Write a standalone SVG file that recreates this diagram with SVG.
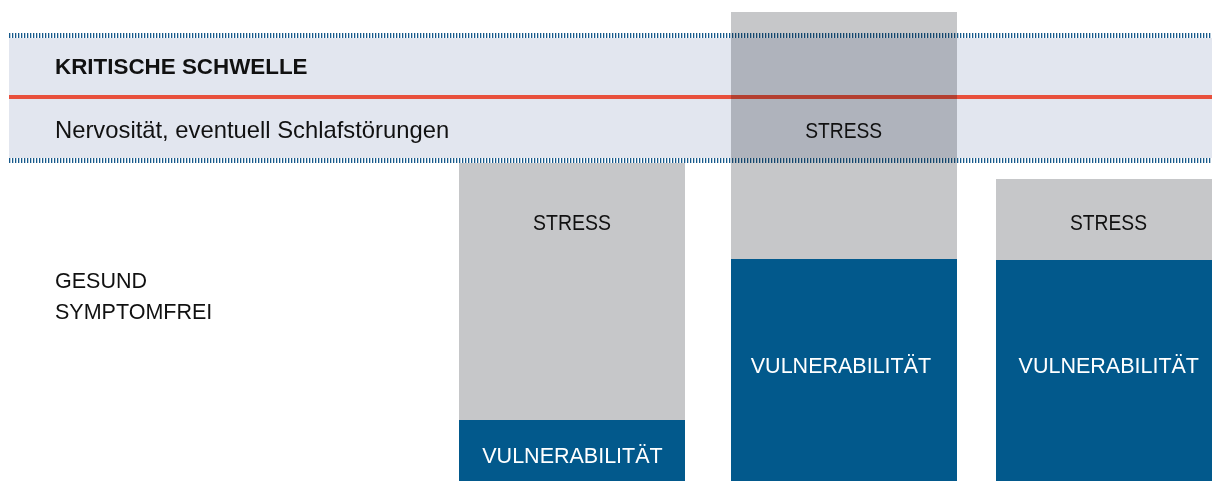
<svg xmlns="http://www.w3.org/2000/svg" width="1212" height="481" viewBox="0 0 1212 481">
  <style>
    .stress { fill: #c6c7c9; }
    .vuln { fill: #02598c; }
    .lbl { font-family: "Liberation Sans", Arial, sans-serif; font-size: 21.5px; fill: #111; }
    .lbl-w { font-family: "Liberation Sans", Arial, sans-serif; font-size: 21.5px; fill: #ffffff; }
    .mid { text-anchor: middle; }
    .dots { stroke: #16598b; stroke-width: 5; stroke-dasharray: 1.3 1.7; fill: none; }
    .band-layer { mix-blend-mode: multiply; }
  </style>
  <rect width="1212" height="481" fill="#ffffff"/>

  <!-- Bar 1: low vulnerability, high stress -->
  <g id="bar-1">
    <rect class="stress" x="459" y="163" width="226" height="257"/>
    <rect class="vuln" x="459" y="420" width="226" height="61"/>
    <text class="lbl mid" x="572" y="230" textLength="78" lengthAdjust="spacingAndGlyphs">STRESS</text>
    <text class="lbl-w mid" x="572.5" y="462.7">VULNERABILITÄT</text>
  </g>

  <!-- Bar 2: high vulnerability, stress crosses threshold -->
  <g id="bar-2">
    <rect class="stress" x="731" y="12" width="226" height="247"/>
    <rect class="vuln" x="731" y="259" width="226" height="222"/>
    <text class="lbl-w mid" x="841" y="372.7">VULNERABILITÄT</text>
  </g>

  <!-- Bar 3: high vulnerability, little stress -->
  <g id="bar-3">
    <rect class="stress" x="996" y="179" width="216" height="81"/>
    <rect class="vuln" x="996" y="260" width="216" height="221"/>
    <text class="lbl mid" x="1108.5" y="230" textLength="77" lengthAdjust="spacingAndGlyphs">STRESS</text>
    <text class="lbl-w mid" x="1108.8" y="372.7">VULNERABILITÄT</text>
  </g>

  <!-- Threshold band, multiplied over the bars -->
  <g id="threshold-band" class="band-layer">
    <rect x="9" y="38" width="1203" height="120" fill="#e2e6ef"/>
    <line class="dots" x1="9" y1="35.5" x2="1212" y2="35.5"/>
    <line class="dots" x1="9" y1="160.5" x2="1212" y2="160.5"/>
    <rect x="9" y="95" width="1203" height="4" fill="#e8503c"/>
  </g>
  <g id="threshold-labels">
    <text x="55" y="74.3" font-family="'Liberation Sans', Arial, sans-serif" font-size="22.4" font-weight="bold" fill="#111">KRITISCHE SCHWELLE</text>
    <text x="55" y="137.5" font-family="'Liberation Sans', Arial, sans-serif" font-size="23.8" fill="#111">Nervosität, eventuell Schlafstörungen</text>
    <text class="lbl mid" x="843.7" y="138.3" textLength="77" lengthAdjust="spacingAndGlyphs">STRESS</text>
  </g>

  <!-- Healthy state label -->
  <g id="healthy">
    <text class="lbl" x="55" y="288.3">GESUND</text>
    <text class="lbl" x="55" y="319">SYMPTOMFREI</text>
  </g>

  <!-- No connectors in this chart -->
  <g id="connectors"/>
</svg>
